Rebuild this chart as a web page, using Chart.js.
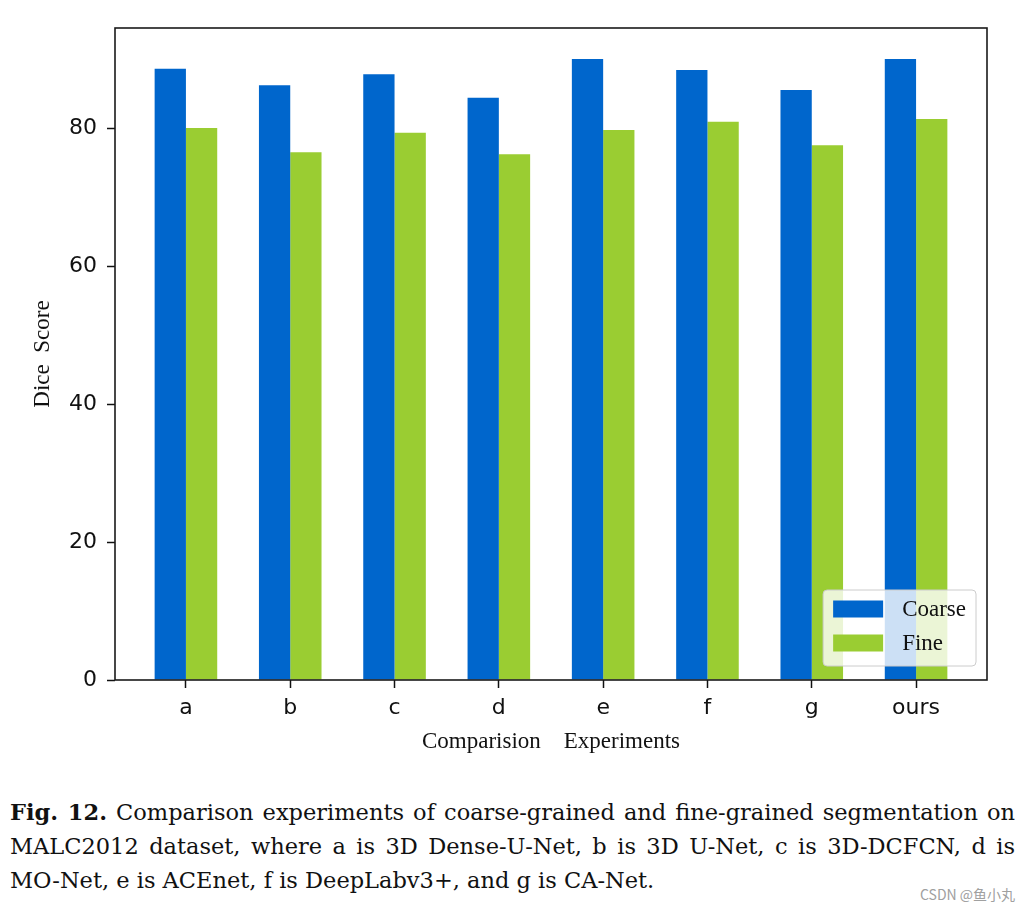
<!DOCTYPE html>
<html>
<head>
<meta charset="utf-8">
<script src="https://cdn.jsdelivr.net/npm/chart.js@4/dist/chart.umd.min.js"></script>
<style>
  html, body { margin: 0; padding: 0; background: #fff; }
  #wrap { position: relative; width: 1035px; height: 780px; }
  #cap {
    position: absolute; left: 10px; top: 795px; width: 1005px;
    font-family: 'DejaVu Serif', serif; font-size: 22.5px; line-height: 34px;
    color: #111; white-space: nowrap;
  }
  #cap .ln { text-align: justify; text-align-last: justify; }
  #cap .last { text-align: left; }
  #wm {
    position: absolute; left: 920px; top: 884px;
    font-family: 'Noto Sans CJK SC', sans-serif; font-size: 14px; color: #a0a0a0;
  }
</style>
</head>
<body>
<div id="wrap"><canvas id="chart"></canvas></div>
<div id="cap">
  <div class="ln"><b>Fig. 12.</b> Comparison experiments of coarse-grained and fine-grained segmentation on</div>
  <div class="ln">MALC2012 dataset, where a is 3D Dense-U-Net, b is 3D U-Net, c is 3D-DCFCN, d is</div>
  <div class="last">MO-Net, e is ACEnet, f is DeepLabv3+, and g is CA-Net.</div>
</div>
<div id="wm">CSDN @鱼小丸</div>
<script>
'use strict';

const categories = ['a', 'b', 'c', 'd', 'e', 'f', 'g', 'ours'];
const coarse = [88.6, 86.2, 87.8, 84.4, 90.0, 88.4, 85.5, 90.0];
const fine = [80.0, 76.5, 79.3, 76.2, 79.7, 80.9, 77.5, 81.3];
const yTicks = [0, 20, 40, 60, 80];

const tickFont = {family: "'DejaVu Sans', sans-serif", size: 22};
const serifFont = "'Liberation Serif', serif";

var toPoints = (vals)=>vals.map((v, i)=>({x: i, y: v}));

// box around the plot + legend in the lower right corner
var frameAndLegend = {
  id: 'frameAndLegend',
  afterDatasetsDraw(chart){
    const ctx = chart.ctx, a = chart.chartArea;
    ctx.save();
    ctx.strokeStyle = '#1a1a1a';
    ctx.lineWidth = 1.6;
    ctx.strokeRect(a.left, a.top, a.right - a.left, a.bottom - a.top);

    ctx.font = '23px ' + serifFont;
    const sets = chart.data.datasets;
    let tw = 0;
    for (const d of sets) tw = Math.max(tw, ctx.measureText(d.label).width);
    const w = 10 + 50 + 19 + tw + 10, h = 76;
    const x = a.right - 11 - w, y = a.bottom - 14 - h;
    ctx.beginPath();
    ctx.roundRect(x, y, w, h, 4);
    ctx.fillStyle = 'rgba(255,255,255,0.8)';
    ctx.fill();
    ctx.strokeStyle = '#cccccc';
    ctx.lineWidth = 1;
    ctx.stroke();
    ctx.textBaseline = 'middle';
    sets.forEach((d, i)=>{
      const cy = y + 19 + i * 34;
      ctx.fillStyle = d.backgroundColor;
      ctx.fillRect(x + 10, cy - 8.5, 50, 17);
      ctx.fillStyle = '#111';
      ctx.fillText(d.label, x + 79, cy + 1);
    });
    ctx.restore();
  }
};

var config = {
  type: 'bar',
  data: {
    datasets: [
      {label: 'Coarse', data: toPoints(coarse), backgroundColor: '#0066CC'},
      {label: 'Fine', data: toPoints(fine), backgroundColor: '#9ACD32'}
    ]
  },
  options: {
    responsive: true,
    maintainAspectRatio: false,
    animation: false,
    categoryPercentage: 0.6,
    barPercentage: 1.0,
    layout: {padding: {left: 0, top: 28, right: 48, bottom: 24}},
    plugins: {legend: {display: false}, tooltip: {enabled: false}},
    scales: {
      x: {
        type: 'linear',
        offset: false,
        min: -0.68,
        max: 7.68,
        afterBuildTicks: (s)=>{ s.ticks = categories.map((c, i)=>({value: i})); },
        afterFit: (s)=>{ s.height = 76; },
        ticks: {
          font: tickFont, color: '#111', padding: 7, maxRotation: 0, autoSkip: false,
          callback: (v)=>categories[v]
        },
        grid: {offset: false, drawOnChartArea: false, tickLength: 8, tickColor: '#111', tickWidth: 1.5},
        border: {display: false},
        title: {
          display: true, text: 'Comparision    Experiments', color: '#111',
          font: {family: serifFont, size: 23}, padding: {top: 0, bottom: 0}
        }
      },
      y: {
        min: 0,
        max: 94.5,
        afterBuildTicks: (s)=>{ s.ticks = yTicks.map((v)=>({value: v})); },
        afterFit: (s)=>{ s.width = 115; },
        ticks: {font: tickFont, color: '#111', padding: 10},
        grid: {drawOnChartArea: false, tickLength: 8, tickColor: '#111', tickWidth: 1.5},
        border: {display: false},
        title: {
          display: true, text: 'Dice  Score', color: '#111',
          font: {family: serifFont, size: 23}, padding: {top: 29, bottom: 0}
        }
      }
    }
  },
  plugins: [frameAndLegend]
};

window.onload = function(){
  var ctx = document.getElementById('chart').getContext('2d');
  window.myBar = new Chart(ctx, config);
};
</script>
</body>
</html>
